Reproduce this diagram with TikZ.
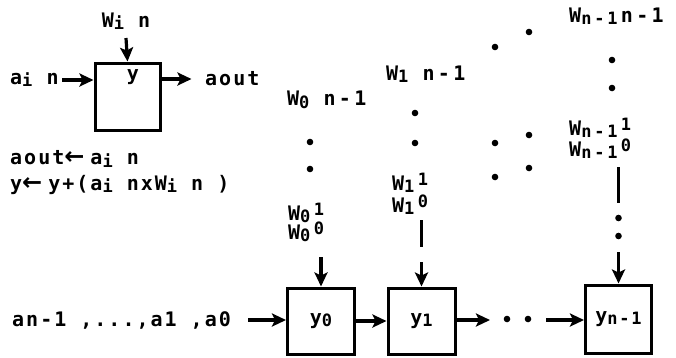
\documentclass[tikz,border=0pt]{standalone}
\usepackage{fontspec}
\setmainfont{DejaVu Sans Mono}[LetterSpace=10]
\newfontfamily\arrfont{DejaVu Sans}
\usetikzlibrary{arrows.meta}
\newcommand\sbs[1]{\raisebox{-0.12em}{\fontsize{17}{17}\selectfont #1}}
\newcommand\sps[1]{\raisebox{0.22em}{\fontsize{17}{17}\selectfont #1}}
\newcommand\larr{{\arrfont\bfseries\fontsize{24}{24}\selectfont ←}}
\tikzset{
  txt/.style={font=\bfseries\fontsize{20}{22}\selectfont, inner sep=0pt},
  cellbox/.style={draw, line width=3pt, inner sep=0pt, font=\bfseries\fontsize{20}{22}\selectfont},
  conn/.style={draw, line width=3.2pt, arrows={-Stealth[length=14pt,width=13pt,inset=3pt]}},
  ln/.style={draw, line width=3.2pt},
  dot/.style={radius=3.3pt},
}
\begin{document}
\begin{tikzpicture}[x=1pt,y=-1pt]
\useasboundingbox (0,0) rectangle (676,357);
% --- single cell legend ---
\node[cellbox, minimum width=65pt, minimum height=67pt] (cell) at (127.5,96.5) {};
\node[txt] (ylab) at (133,77) {y};
\node[txt] (win) at (126,21) {W\sbs{i} n};
\node[txt, anchor=west] (ain) at (10,80) {a\sbs{i} n};
\node[txt, anchor=west] (aout) at (205,79) {aout};
\coordinate (ainE) at (62,80);
\coordinate (winS) at (126,38);
\path[conn] (winS) -- (cell.north);
\path[conn] (ainE) -- (cell.west |- ainE);
\path[conn] (cell.east |- aout.west) -- ++(30,0);
\node[txt, anchor=west] (rule1) at (10,159) {aout\larr\hspace{6pt}a\sbs{i} n};
\node[txt, anchor=west] (rule2) at (10,185) {y\larr\hspace{6pt}y+(a\sbs{i} nxW\sbs{i} n )};
% --- array ---
\node[cellbox, minimum width=67pt, minimum height=66pt] (c0) at (321,321) {y\sbs{0}};
\node[cellbox, minimum width=67pt, minimum height=66pt] (c1) at (421.5,321) {y\sbs{1}};
\node[cellbox, minimum width=66pt, minimum height=68pt] (cn) at (618.5,319) {y\sbs{n-1}};
\node[txt, anchor=west] (ain2) at (12,320) {an-1 ,...,a1 ,a0};
\coordinate (a2E) at (248,320);
\path[conn] (a2E) -- (c0.west |- a2E);
\path[conn] (c0.east |- c1.west) -- (c1.west);
\coordinate (d1) at (490,320);
\coordinate (d2) at (546,320);
\path[conn] (c1.east |- d1) -- (d1);
\path[conn] (d2) -- (cn.west |- d2);
\fill (507,319) circle[dot] (528,319) circle[dot];
% column 0
\node[txt, anchor=west] (w0n) at (287,100) {W\sbs{0} n\,-\,1};
\node[txt, anchor=west] (w01) at (288,213) {W\sbs{0}\,\sps{1}};
\node[txt, anchor=west] (w00) at (288,232) {W\sbs{0}\,\sps{0}};
\fill (310,142) circle[dot] (310,169) circle[dot];
\path[conn] (c0.north |- 0,257) -- (c0.north);
% column 1
\node[txt, anchor=west] (w1n) at (386,74) {W\sbs{1} n\,-\,1};
\node[txt, anchor=west] (w11) at (392,183) {W\sbs{1}\,\sps{1}};
\node[txt, anchor=west] (w10) at (392,205) {W\sbs{1}\,\sps{0}};
\fill (415,113) circle[dot] (415,143) circle[dot];
\coordinate (l1a) at (421.5,220);
\coordinate (l1b) at (421.5,247);
\path[ln] (l1a) -- (l1b);
\path[conn] (c1.north |- 0,262) -- (c1.north);
% column n-1
\node[txt, anchor=west] (wnn) at (569,16) {W\sbs{n\,-\,1}\,n\,-\,1};
\node[txt, anchor=west] (wn1) at (569,128) {W\sbs{n\,-\,1}\,\sps{1}};
\node[txt, anchor=west] (wn0) at (569,149) {W\sbs{n\,-\,1}\,\sps{0}};
\fill (612,60) circle[dot] (612,88) circle[dot];
\coordinate (lna) at (618.5,167);
\coordinate (lnb) at (618.5,203);
\path[ln] (lna) -- (lnb);
\fill (618.5,218) circle[dot] (618.5,236) circle[dot];
\path[conn] (cn.north |- 0,252) -- (cn.north);
% diagonal dots
\fill (495,47) circle[dot] (529,32) circle[dot];
\fill (495,143) circle[dot] (529,135) circle[dot];
\fill (495,177) circle[dot] (529,168) circle[dot];
\end{tikzpicture}
\end{document}
